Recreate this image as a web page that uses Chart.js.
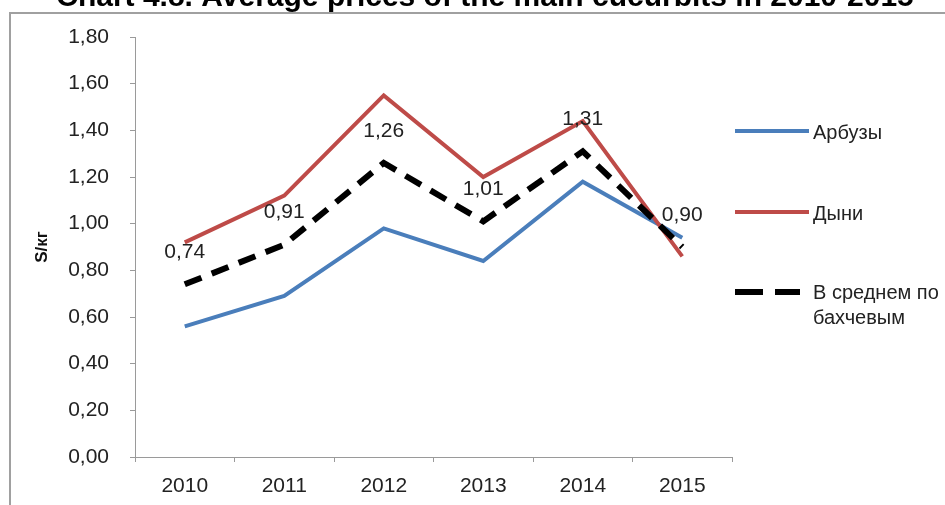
<!DOCTYPE html>
<html>
<head>
<meta charset="utf-8">
<script src="https://cdn.jsdelivr.net/npm/chart.js@4"></script>
<style>
    html, body { margin: 0; padding: 0; background: #fff; overflow: hidden; }
    #frame {
        position: absolute; left: 9px; top: 12px; width: 1000px; height: 600px;
        border-left: 2px solid #a0a0a0; border-top: 2px solid #a0a0a0;
    }
    #wrap { position: absolute; left: 0; top: 0; width: 945px; height: 505px; }
</style>
</head>
<body>
<div id="frame"></div>
<div id="wrap"><canvas id="prices_chart" width="945" height="505"></canvas></div>
<script>
const years = ["2010", "2011", "2012", "2013", "2014", "2015"]
const watermelons = [0.56, 0.69, 0.98, 0.84, 1.18, 0.94]
const melons = [0.92, 1.12, 1.55, 1.20, 1.44, 0.86]
const average = [0.74, 0.91, 1.26, 1.01, 1.31, 0.90]
const seriesNames = ["Арбузы", "Дыни", "В среднем по", "бахчевым"]
const titleText = "Chart 4.8. Average prices of the main cucurbits in 2010-2015"

const FONT = "'Liberation Sans', Arial, sans-serif"
const comma = v => v.toFixed(2).replace(".", ",")

// extra drawing: title, value labels, legend
const decorPlugin = {
    id: "decor",
    afterDatasetsDraw(chart) {
        const ctx = chart.ctx
        ctx.save()
        // labels on the average line
        ctx.font = "21px " + FONT
        ctx.fillStyle = "#222"
        ctx.textAlign = "center"
        ctx.textBaseline = "middle"
        chart.getDatasetMeta(2).data.forEach((pt, i) => {
            ctx.fillText(comma(average[i]), pt.x, pt.y - 32)
        })

        // title, cut off by the top edge
        ctx.font = "bold 30px " + FONT
        ctx.fillStyle = "#000"
        ctx.fillText(titleText, 485, -2)

        // legend
        ctx.lineCap = "butt"
        ctx.lineWidth = 4
        ctx.strokeStyle = "#4a7ebb"
        ctx.beginPath(); ctx.moveTo(735, 131); ctx.lineTo(809, 131); ctx.stroke()
        ctx.strokeStyle = "#be4b48"
        ctx.beginPath(); ctx.moveTo(735, 212); ctx.lineTo(809, 212); ctx.stroke()
        ctx.lineWidth = 6
        ctx.strokeStyle = "#000"
        ctx.beginPath(); ctx.moveTo(735, 292); ctx.lineTo(763, 292); ctx.stroke()
        ctx.beginPath(); ctx.moveTo(775, 292); ctx.lineTo(800, 292); ctx.stroke()

        ctx.font = "20px " + FONT
        ctx.fillStyle = "#222"
        ctx.textAlign = "left"
        ctx.fillText(seriesNames[0], 813, 133)
        ctx.fillText(seriesNames[1], 813, 214)
        ctx.fillText(seriesNames[2], 813, 293)
        ctx.fillText(seriesNames[3], 813, 318)
        ctx.restore()
    },
}

function main() {
    new Chart(document.getElementById("prices_chart"), {
        type: "line",
        data: {
            labels: years,
            datasets: [
                {
                    label: seriesNames[0],
                    data: watermelons,
                    borderColor: "#4a7ebb",
                    borderWidth: 4,
                    pointRadius: 0,
                    order: 2,
                },
                {
                    label: seriesNames[1],
                    data: melons,
                    borderColor: "#be4b48",
                    borderWidth: 4,
                    pointRadius: 0,
                    order: 1,
                },
                {
                    label: seriesNames[2] + " " + seriesNames[3],
                    data: average,
                    borderColor: "#000",
                    borderWidth: 6,
                    borderDash: [18, 11],
                    pointRadius: 0,
                    order: 0,
                },
            ],
        },
        options: {
            responsive: false,
            animation: false,
            layout: {
                padding: { left: 32, right: 213, top: 37, bottom: 0 },
            },
            elements: {
                line: { tension: 0 },
            },
            scales: {
                x: {
                    offset: true,
                    grid: {
                        display: true,
                        offset: true,
                        drawOnChartArea: false,
                        tickLength: 5,
                        color: "#9a9a9a",
                    },
                    border: { display: true, color: "#9a9a9a", width: 1 },
                    ticks: {
                        color: "#222",
                        padding: 12,
                        font: { family: FONT, size: 21 },
                    },
                    afterFit: scale => { scale.height = 48 },
                },
                y: {
                    min: 0,
                    max: 1.8,
                    grid: {
                        display: true,
                        drawOnChartArea: false,
                        tickLength: 5,
                        color: "#9a9a9a",
                    },
                    border: { display: true, color: "#9a9a9a", width: 1 },
                    ticks: {
                        stepSize: 0.2,
                        color: "#222",
                        padding: 21,
                        font: { family: FONT, size: 21 },
                        callback: v => comma(v),
                    },
                    title: {
                        display: true,
                        text: "S/кг",
                        color: "#111",
                        font: { family: FONT, size: 17, weight: "bold" },
                        padding: { top: 0, bottom: 0 },
                    },
                    afterFit: scale => { scale.width = 103 },
                },
            },
            plugins: {
                legend: { display: false },
                tooltip: { enabled: false },
            },
        },
        plugins: [decorPlugin],
    })
}

document.addEventListener("DOMContentLoaded", main())
</script>
</body>
</html>
